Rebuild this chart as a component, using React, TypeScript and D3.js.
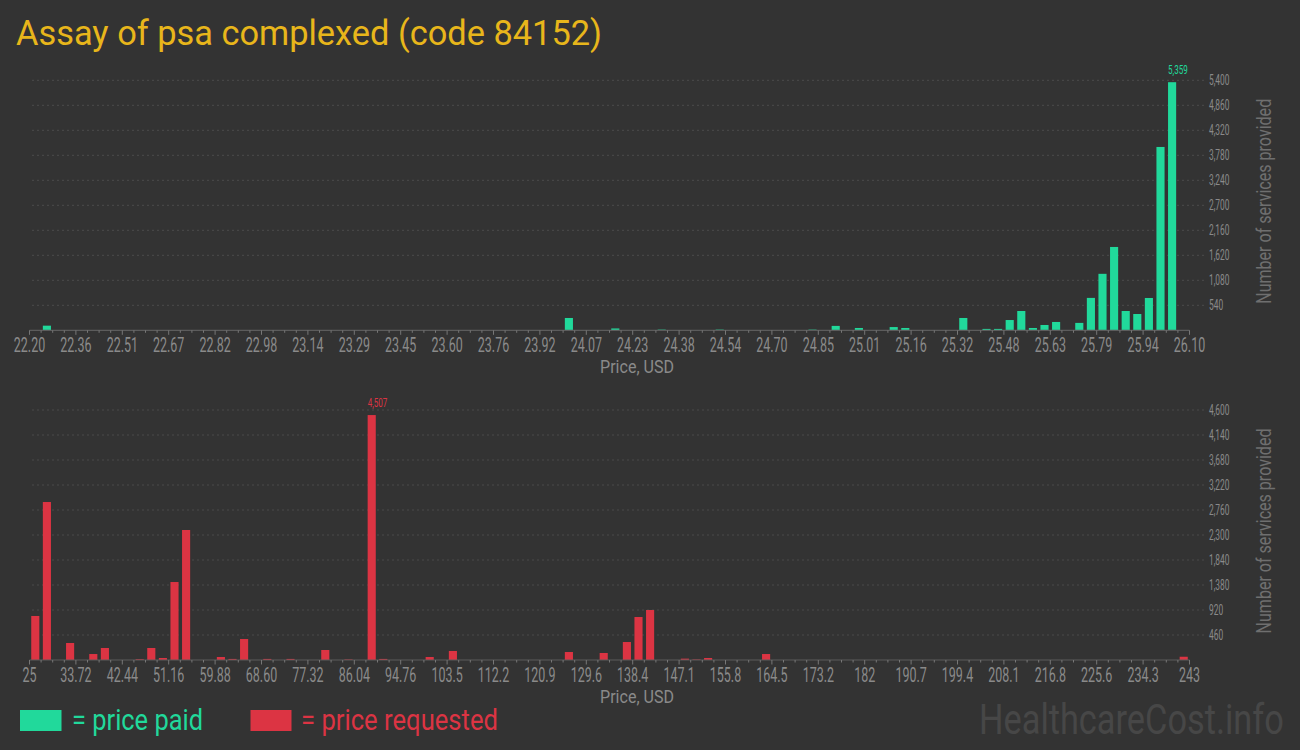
import * as d3 from 'd3';

// histogram bins (slot index of 100) and number of services in each
const paidBins = [1, 46, 50, 54, 59, 67, 69, 71, 74, 75, 80, 82, 83, 84, 85, 86, 87, 88, 90, 91, 92, 93, 94, 95, 96, 97, 98];
const paidCounts = [100, 266, 40, 15, 15, 15, 95, 50, 70, 50, 266, 30, 30, 222, 417, 50, 115, 180, 160, 700, 1220, 1800, 417, 352, 698, 3960, 5359];

const requestedBins = [0, 1, 3, 5, 6, 9, 10, 11, 12, 13, 16, 17, 18, 20, 22, 25, 27, 29, 30, 34, 36, 46, 49, 51, 52, 53, 56, 57, 58, 63, 99];
const requestedCounts = [810, 2907, 313, 110, 221, 15, 221, 37, 1435, 2392, 55, 20, 386, 20, 20, 184, 10, 4507, 20, 55, 166, 147, 129, 331, 791, 920, 25, 10, 37, 110, 60];

const paidTicks = ['22.20', '22.36', '22.51', '22.67', '22.82', '22.98', '23.14', '23.29', '23.45', '23.60', '23.76', '23.92', '24.07', '24.23', '24.38', '24.54', '24.70', '24.85', '25.01', '25.16', '25.32', '25.48', '25.63', '25.79', '25.94', '26.10'];
const requestedTicks = ['25', '33.72', '42.44', '51.16', '59.88', '68.60', '77.32', '86.04', '94.76', '103.5', '112.2', '120.9', '129.6', '138.4', '147.1', '155.8', '164.5', '173.2', '182', '190.7', '199.4', '208.1', '216.8', '225.6', '234.3', '243'];

const paidYTicks = [540, 1080, 1620, 2160, 2700, 3240, 3780, 4320, 4860, 5400];
const requestedYTicks = [460, 920, 1380, 1840, 2300, 2760, 3220, 3680, 4140, 4600];

const W = 1300;
const H = 750;
const BG = '#333333';
const GREEN = '#21d99b';
const RED = '#dc3443';
const FONT = 'Roboto, "Noto Sans", sans-serif';
const NBINS = 100;
const X0 = 29.5;
const X1 = 1189.5;

const fmt = d3.format(',');

interface PanelProps {
  bins: number[];
  counts: number[];
  ticks: string[];
  yTicks: number[];
  color: string;
  baseY: number;
  topY: number;
}

function Panel({ bins, counts, ticks, yTicks, color, baseY, topY }: PanelProps) {
  const x = d3.scaleBand<number>()
    .domain(d3.range(NBINS))
    .range([X0, X1])
    .paddingInner(0.3)
    .paddingOuter(0.15);
  const edge = d3.scaleLinear().domain([0, NBINS]).range([X0, X1]);
  const yMax = yTicks[yTicks.length - 1];
  const y = d3.scaleLinear().domain([0, yMax]).range([baseY, topY]);

  const maxIdx = d3.maxIndex(counts);
  const majorStep = NBINS / (ticks.length - 1);

  return (
    <g>
      {yTicks.map(t => (
        <g key={t}>
          <line x1={32} x2={1206} y1={y(t)} y2={y(t)} stroke="#4b4b4b" strokeDasharray="2,3" />
          <text
            transform={`translate(1209,${y(t) + 4.6}) scale(0.6,1)`}
            fontSize={14}
            fill="#8a8a8a"
            fontFamily={FONT}
          >
            {fmt(t)}
          </text>
        </g>
      ))}
      {bins.map((b, i) => (
        <rect
          key={b}
          x={x(b)}
          width={x.bandwidth()}
          y={y(counts[i])}
          height={baseY - y(counts[i])}
          fill={color}
        />
      ))}
      <text
        transform={`translate(${x(bins[maxIdx])},${y(counts[maxIdx]) - 8.5}) scale(0.62,1)`}
        fontSize={13}
        fill={color}
        fontFamily={FONT}
      >
        {fmt(counts[maxIdx])}
      </text>
      <line x1={X0} x2={X1} y1={baseY} y2={baseY} stroke="#5c5c5c" strokeWidth={1.2} />
      {d3.range(NBINS + 1).map(k => (
        <line
          key={k}
          x1={edge(k)}
          x2={edge(k)}
          y1={baseY}
          y2={baseY + (k % majorStep === 0 ? 4.5 : 2.5)}
          stroke="#777"
        />
      ))}
      {ticks.map((t, i) => (
        <text
          key={t}
          transform={`translate(${edge(i * majorStep)},${baseY + 22}) scale(0.64,1)`}
          textAnchor="middle"
          fontSize={19.5}
          fill="#8a8a8a"
          fontFamily={FONT}
        >
          {t}
        </text>
      ))}
      <text
        transform={`translate(637,${baseY + 43}) scale(0.85,1)`}
        textAnchor="middle"
        fontSize={18}
        textLength={87}
        lengthAdjust="spacingAndGlyphs"
        fill="#8a8a8a"
        fontFamily={FONT}
      >
        Price, USD
      </text>
      <text
        transform={`translate(1271,${(baseY + topY) / 2 - 4}) rotate(-90)`}
        textAnchor="middle"
        fontSize={20}
        textLength={205}
        lengthAdjust="spacingAndGlyphs"
        fill="#6f6f6f"
        fontFamily={FONT}
      >
        Number of services provided
      </text>
    </g>
  );
}

export default function App() {
  return (
    <svg
      width={W}
      height={H}
      viewBox={`0 0 ${W} ${H}`}
      style={{ position: 'absolute', left: 0, top: 0, background: BG, display: 'block' }}
    >
      <rect width={W} height={H} fill={BG} />
      <text
        x={16}
        y={45}
        fontSize={35}
        textLength={586}
        lengthAdjust="spacingAndGlyphs"
        fill="#e8b61b"
        fontFamily={FONT}
      >
        Assay of psa complexed (code 84152)
      </text>
      <Panel
        bins={paidBins}
        counts={paidCounts}
        ticks={paidTicks}
        yTicks={paidYTicks}
        color={GREEN}
        baseY={330.3}
        topY={80.3}
      />
      <Panel
        bins={requestedBins}
        counts={requestedCounts}
        ticks={requestedTicks}
        yTicks={requestedYTicks}
        color={RED}
        baseY={660}
        topY={410}
      />
      <rect x={20} y={710} width={41.5} height={21} fill={GREEN} />
      <text x={72} y={730} fontSize={30} textLength={131} lengthAdjust="spacingAndGlyphs" fill={GREEN} fontFamily={FONT}>
        = price paid
      </text>
      <rect x={250.5} y={710} width={41} height={21} fill={RED} />
      <text x={301} y={730} fontSize={30} textLength={197} lengthAdjust="spacingAndGlyphs" fill={RED} fontFamily={FONT}>
        = price requested
      </text>
      <text
        transform="translate(979,734) scale(0.8,1)"
        fontSize={42}
        textLength={381}
        lengthAdjust="spacingAndGlyphs"
        fill="#474747"
        fontFamily={FONT}
      >
        HealthcareCost.info
      </text>
    </svg>
  );
}
